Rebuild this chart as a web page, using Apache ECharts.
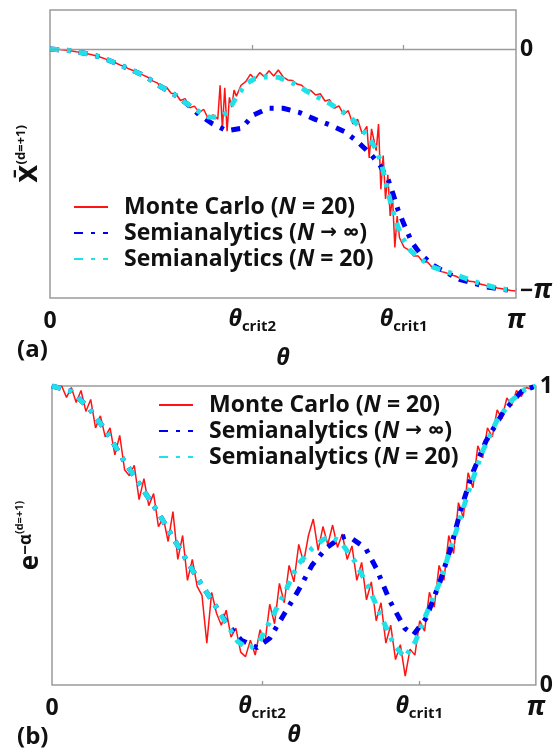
<!DOCTYPE html>
<html>
<head>
<meta charset="utf-8">
<script src="https://cdn.jsdelivr.net/npm/echarts@6/dist/echarts.min.js"></script>
<style>
  html, body { margin: 0; padding: 0; background: #fff; }
  #chart { width: 556px; height: 755px; }
</style>
</head>
<body>
<div id="chart"></div>
<script>
// θ is kept in units of π (0 .. 1); panel (a) values also in units of π
const xTicks = [0, 0.434, 0.759, 1];
const xTickLabels = ['{n|0}', '{t|θ}{s|crit2}', '{t|θ}{s|crit1}', '{p|π}'];
const aYTicks = [0, -1];
const aYTickLabels = ['{n|0}', '{n|−}{p|π}'];
const bYTicks = [0, 1];
const bYTickLabels = ['{n|0}', '{n|1}'];

const seriesNames = ['Monte Carlo (N = 20)', 'Semianalytics (N → ∞)', 'Semianalytics (N = 20)'];

// panel (a): Monte Carlo
const aMcX = [0,0.01,0.02,0.03,0.04,0.05,0.06,0.07,0.08,0.09,0.10,0.11,0.12,0.13,0.14,0.15,0.16,0.17,0.18,0.19,
  0.20,0.21,0.22,0.23,0.24,0.25,0.26,0.27,0.28,0.29,0.30,0.31,0.32,0.33,0.34,0.35,0.36,
  0.365,0.37,0.375,0.38,0.385,0.39,0.395,0.40,
  0.41,0.42,0.43,0.44,0.45,0.46,0.47,0.48,0.49,0.50,0.51,0.52,0.53,0.54,0.55,0.56,0.57,0.58,0.59,0.60,
  0.61,0.62,0.63,0.64,0.65,0.66,0.67,0.68,
  0.685,0.69,0.70,0.705,0.71,0.715,0.72,0.725,0.73,0.735,0.74,0.745,0.75,
  0.76,0.77,0.78,0.79,0.80,0.81,0.82,0.83,0.84,0.85,0.86,0.87,0.88,0.89,0.90,0.91,0.92,0.93,0.94,0.95,
  0.96,0.97,0.98,0.99,1.00];
const aMcY = [0.000,-0.001,-0.002,-0.004,-0.006,-0.009,-0.013,-0.016,-0.020,-0.024,
  -0.029,-0.035,-0.042,-0.050,-0.057,-0.066,-0.073,-0.083,-0.090,-0.099,
  -0.108,-0.117,-0.132,-0.140,-0.162,-0.158,-0.183,-0.185,-0.213,-0.205,
  -0.243,-0.236,-0.262,-0.250,-0.290,-0.272,-0.290,
  -0.150,-0.330,-0.160,-0.340,-0.200,-0.240,-0.170,-0.195,
  -0.150,-0.135,-0.105,-0.125,-0.098,-0.115,-0.090,-0.112,-0.087,-0.115,
  -0.128,-0.130,-0.145,-0.150,-0.168,-0.172,-0.190,-0.185,-0.215,-0.210,
  -0.245,-0.235,-0.270,-0.255,-0.310,-0.290,-0.350,-0.320,
  -0.450,-0.330,-0.420,-0.310,-0.580,-0.440,-0.620,-0.520,-0.690,-0.610,-0.820,-0.690,-0.780,
  -0.820,-0.830,-0.855,-0.855,-0.880,-0.880,-0.902,-0.905,-0.920,-0.925,-0.933,-0.938,-0.948,-0.950,
  -0.960,-0.962,-0.970,-0.974,-0.980,-0.983,-0.988,-0.991,-0.995,-0.998,-1.000];

// panel (a): semianalytics N -> inf
const aInfX = [0,0.040,0.075,0.107,0.139,0.172,0.204,0.232,0.265,0.293,0.320,0.347,0.379,0.411,0.436,0.468,0.500,
  0.536,0.569,0.601,0.633,0.658,0.687,0.708,0.726,0.737,0.747,0.762,0.776,0.794,0.822,0.851,0.880,0.912,0.937,0.970,1.000];
const aInfY = [0,-0.006,-0.018,-0.032,-0.057,-0.084,-0.112,-0.149,-0.186,-0.225,-0.272,-0.307,-0.338,-0.328,-0.273,-0.245,-0.245,
  -0.263,-0.291,-0.314,-0.342,-0.380,-0.432,-0.480,-0.542,-0.604,-0.666,-0.735,-0.797,-0.845,-0.894,-0.924,-0.953,-0.969,-0.983,-0.993,-1.000];

// panel (a): semianalytics N = 20
const aN20X = [0,0.040,0.075,0.107,0.139,0.172,0.204,0.232,0.265,0.293,0.322,0.340,0.365,0.382,0.395,0.405,0.420,0.440,0.460,0.490,
  0.525,0.560,0.600,0.644,0.680,0.701,0.712,0.722,0.733,0.744,0.755,0.773,0.794,0.822,0.873,0.923,0.960,1.000];
const aN20Y = [0,-0.006,-0.018,-0.032,-0.057,-0.084,-0.112,-0.149,-0.186,-0.225,-0.262,-0.281,-0.282,-0.259,-0.215,-0.185,-0.145,-0.122,-0.115,-0.117,
  -0.145,-0.185,-0.225,-0.280,-0.356,-0.418,-0.480,-0.563,-0.652,-0.721,-0.777,-0.832,-0.866,-0.901,-0.935,-0.969,-0.988,-1.000];

// panel (b): Monte Carlo
const bMcX = [0,0.01,0.02,0.03,0.04,0.05,0.06,0.07,0.08,0.09,0.10,0.11,0.12,0.13,0.14,0.15,0.16,0.17,0.18,0.19,
  0.20,0.21,0.22,0.23,0.24,0.25,0.26,0.27,0.28,0.29,0.30,0.31,0.32,0.33,0.34,0.35,0.36,0.37,0.38,0.39,
  0.40,0.41,0.42,0.43,0.44,0.45,0.46,0.47,0.48,0.49,0.50,0.51,0.52,0.53,0.54,0.55,0.56,0.57,0.58,0.59,
  0.60,0.61,0.62,0.63,0.64,0.65,0.66,0.67,0.68,0.69,0.70,0.71,0.72,0.73,0.74,0.75,0.76,0.77,0.78,0.79,
  0.80,0.81,0.82,0.83,0.84,0.85,0.86,0.87,0.88,0.89,0.90,0.91,0.92,0.93,0.94,0.95,0.96,0.97,0.98,0.99,1.00];
const bMcY = [1.000,0.992,1.000,0.962,0.995,0.945,0.985,0.915,0.955,0.860,
  0.900,0.830,0.860,0.770,0.835,0.720,0.700,0.735,0.620,0.690,
  0.600,0.640,0.530,0.560,0.480,0.580,0.420,0.500,0.350,0.420,
  0.330,0.300,0.140,0.310,0.240,0.200,0.250,0.160,0.190,0.110,
  0.095,0.150,0.100,0.185,0.140,0.270,0.205,0.340,0.275,0.400,
  0.345,0.470,0.410,0.500,0.555,0.450,0.530,0.470,0.535,0.460,
  0.505,0.420,0.465,0.350,0.410,0.285,0.345,0.215,0.275,0.140,
  0.200,0.085,0.135,0.030,0.120,0.100,0.215,0.180,0.310,0.260,
  0.400,0.350,0.500,0.440,0.610,0.560,0.710,0.660,0.800,0.760,
  0.860,0.830,0.920,0.890,0.960,0.935,0.985,0.965,0.995,0.990,1.000];

// panel (b): semianalytics N -> inf
const bInfX = [0,0.039,0.076,0.112,0.149,0.186,0.222,0.259,0.296,0.332,0.362,0.391,0.424,0.450,0.479,0.508,0.538,0.567,0.596,0.607,
  0.618,0.648,0.670,0.699,0.729,0.747,0.773,0.802,0.824,0.846,0.868,0.897,0.934,0.971,1.000];
const bInfY = [1.000,0.983,0.927,0.849,0.749,0.659,0.570,0.469,0.369,0.279,0.205,0.150,0.125,0.156,0.235,0.313,0.402,0.458,0.492,0.497,
  0.492,0.458,0.391,0.279,0.190,0.168,0.223,0.346,0.458,0.592,0.704,0.816,0.916,0.983,1.000];

// panel (b): semianalytics N = 20
const bN20X = [0,0.039,0.076,0.112,0.149,0.186,0.222,0.259,0.296,0.332,0.362,0.384,0.406,0.428,0.450,0.479,0.508,0.538,0.560,0.574,
  0.596,0.626,0.655,0.685,0.707,0.729,0.751,0.773,0.802,0.831,0.861,0.890,0.919,0.949,0.978,1.000];
const bN20Y = [1.000,0.983,0.927,0.849,0.749,0.659,0.570,0.469,0.369,0.279,0.201,0.145,0.121,0.145,0.212,0.302,0.402,0.458,0.486,0.497,
  0.480,0.413,0.324,0.212,0.134,0.092,0.145,0.235,0.346,0.492,0.648,0.782,0.883,0.950,0.989,1.000];

const pairs = (xs, ys) => xs.map((x, i) => [x, ys[i]]);

const FONT = 'Open Sans';
const INK = '#111';
const FRAME = '#9a9a9a';
const RED = '#ff1414';
const BLUE = '#0000f0';
const CYAN = '#1fe2e8';
const DASH = [9, 8, 4, 8];

const tickRich = {
  n: { fontFamily: FONT, fontSize: 23, fontWeight: 'bold', color: INK, lineHeight: 26 },
  p: { fontFamily: FONT, fontSize: 26, fontWeight: 'bold', fontStyle: 'italic', color: INK, lineHeight: 26 },
  t: { fontFamily: FONT, fontSize: 23, fontWeight: 'bold', fontStyle: 'italic', color: INK, lineHeight: 26, verticalAlign: 'top' },
  s: { fontFamily: FONT, fontSize: 15, fontWeight: 'bold', color: INK, lineHeight: 15, verticalAlign: 'bottom', padding: [17, 0, 0, 0] }
};

const pick = (vals, labels) => (v) => {
  const i = vals.findIndex((t) => Math.abs(t - v) < 1e-6);
  return i < 0 ? '' : labels[i];
};

const legendStyle = (left, top) => ({
  orient: 'vertical',
  left: left,
  top: top,
  padding: 0,
  itemWidth: 34,
  itemHeight: 14,
  itemGap: 0,
  data: seriesNames,
  itemStyle: { opacity: 0 },
  formatter: (name) => name.replace('(N', '({i|N}').replace('→', '{ar|→}'),
  textStyle: {
    fontFamily: FONT, fontSize: 23, fontWeight: 'bold', color: INK, lineHeight: 26, padding: [0, 0, 0, 11],
    rich: {
      i: { fontFamily: FONT, fontSize: 23, fontWeight: 'bold', fontStyle: 'italic', color: INK },
      ar: { fontFamily: 'DejaVu Sans', fontSize: 20, fontWeight: 'bold', color: INK }
    }
  }
});

const xAxisFor = (gridIndex, nameGap) => ({
  gridIndex: gridIndex,
  type: 'value',
  min: 0,
  max: 1,
  axisLine: { show: false },
  splitLine: { show: false },
  axisTick: { show: true, inside: true, length: 4, customValues: xTicks.slice(1, 3), lineStyle: { color: FRAME, width: 1.3 } },
  axisLabel: { margin: 10, customValues: xTicks, formatter: pick(xTicks, xTickLabels), rich: tickRich },
  name: 'θ',
  nameLocation: 'middle',
  nameGap: nameGap,
  nameTextStyle: { fontFamily: FONT, fontSize: 23, fontWeight: 'bold', fontStyle: 'italic', color: INK }
});

const lineSeries = (name, xi, yi, data, color, width, dash, z) => ({
  name: name,
  type: 'line',
  xAxisIndex: xi,
  yAxisIndex: yi,
  data: data,
  symbol: 'none',
  showSymbol: false,
  z: z,
  lineStyle: { color: color, width: width, type: dash, cap: 'butt' },
  itemStyle: { color: color },
  emphasis: { disabled: true }
});

const titleStyle = { fontFamily: FONT, fontSize: 24, fontWeight: 'bold', color: INK };

const chart = echarts.init(document.getElementById('chart'), null, { renderer: 'canvas' });

chart.setOption({
  animation: false,
  backgroundColor: '#fff',
  title: [
    { text: '(a)', left: 17, top: 338, padding: 0, textStyle: titleStyle },
    { text: '(b)', left: 17, top: 725, padding: 0, textStyle: titleStyle }
  ],
  legend: [legendStyle(73, 194), legendStyle(158, 392)],
  grid: [
    { left: 50, top: 10, width: 466, height: 288, show: true, borderColor: FRAME, borderWidth: 1.5 },
    { left: 52, top: 386, width: 485, height: 299, show: true, borderColor: FRAME, borderWidth: 1.5 }
  ],
  xAxis: [xAxisFor(0, 49), xAxisFor(1, 39)],
  yAxis: [
    {
      gridIndex: 0, type: 'value', position: 'left', min: -1.029, max: 0.161,
      axisLine: { show: false }, axisTick: { show: false }, axisLabel: { show: false }, splitLine: { show: false },
      name: '{x|X̄}{sup|(d=+1)}',
      nameLocation: 'middle', nameRotate: 90, nameGap: 7,
      nameTextStyle: {
        rich: {
          x: { fontFamily: 'DejaVu Sans', fontSize: 24, fontWeight: 'bold', color: INK, lineHeight: 28, verticalAlign: 'bottom' },
          sup: { fontFamily: FONT, fontSize: 13, fontWeight: 'bold', color: INK, lineHeight: 13, verticalAlign: 'top' }
        }
      }
    },
    {
      gridIndex: 0, type: 'value', position: 'right', min: -1.029, max: 0.161,
      axisLine: { show: false }, axisTick: { show: false }, splitLine: { show: false },
      axisLabel: { margin: 4, customValues: aYTicks, formatter: pick(aYTicks, aYTickLabels), rich: tickRich }
    },
    {
      gridIndex: 1, type: 'value', position: 'left', min: 0, max: 1,
      axisLine: { show: false }, axisTick: { show: false }, axisLabel: { show: false }, splitLine: { show: false },
      name: '{e|e}{a|−α}{sup|(d=+1)}',
      nameLocation: 'middle', nameRotate: 90, nameGap: 8,
      nameTextStyle: {
        rich: {
          e: { fontFamily: FONT, fontSize: 26, fontWeight: 'bold', color: INK, lineHeight: 30, verticalAlign: 'bottom' },
          a: { fontFamily: FONT, fontSize: 17, fontWeight: 'bold', color: INK, lineHeight: 17, verticalAlign: 'top', padding: [4, 0, 0, 0] },
          sup: { fontFamily: FONT, fontSize: 11, fontWeight: 'bold', color: INK, lineHeight: 11, verticalAlign: 'top' }
        }
      }
    },
    {
      gridIndex: 1, type: 'value', position: 'right', min: 0, max: 1,
      axisLine: { show: false }, axisTick: { show: false }, splitLine: { show: false },
      axisLabel: { margin: 4, customValues: bYTicks, formatter: pick(bYTicks, bYTickLabels), rich: tickRich }
    }
  ],
  series: [
    Object.assign(lineSeries(seriesNames[0], 0, 0, pairs(aMcX, aMcY), RED, 1.5, 'solid', 2), {
      markLine: {
        silent: true, symbol: 'none', label: { show: false },
        lineStyle: { color: FRAME, width: 1.4, type: 'solid' },
        data: [{ yAxis: 0 }]
      }
    }),
    lineSeries(seriesNames[1], 0, 0, pairs(aInfX, aInfY), BLUE, 5, DASH, 3),
    lineSeries(seriesNames[2], 0, 0, pairs(aN20X, aN20Y), CYAN, 5, DASH, 4),
    lineSeries(seriesNames[0], 1, 2, pairs(bMcX, bMcY), RED, 1.5, 'solid', 2),
    lineSeries(seriesNames[1], 1, 2, pairs(bInfX, bInfY), BLUE, 5, DASH, 3),
    lineSeries(seriesNames[2], 1, 2, pairs(bN20X, bN20Y), CYAN, 5, DASH, 4)
  ]
});
</script>
</body>
</html>
